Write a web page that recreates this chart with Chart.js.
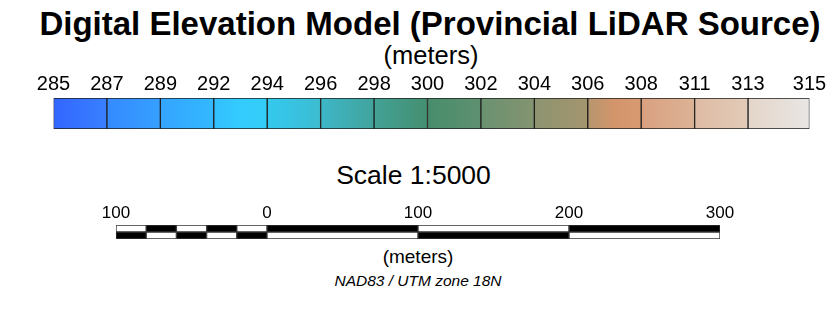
<!DOCTYPE html>
<html>
<head>
<meta charset="utf-8">
<script src="https://cdn.jsdelivr.net/npm/chart.js@4.4.1/dist/chart.umd.min.js"></script>
<style>
  html, body { margin: 0; padding: 0; background: #fff; overflow: hidden; }
  body { width: 835px; height: 310px; position: relative; font-family: "Liberation Sans", Arial, sans-serif; color: #000; }
  .txt { position: absolute; white-space: nowrap; transform: translateX(-50%); line-height: 1; }
  #title { left: 430px; top: 7px; font-size: 33px; font-weight: bold; }
  #units { left: 431px; top: 43px; font-size: 25.5px; }
  #scaleTitle { left: 413.5px; top: 161.5px; font-size: 26.5px; }
  #scaleUnits { left: 418px; top: 247px; font-size: 19px; }
  #crs { left: 418px; top: 273px; font-size: 15.5px; font-style: italic; }
  .box { position: absolute; }
  #rampBox { left: 26px; top: 72px; width: 809px; height: 58px; }
  #scaleBox { left: 86px; top: 203px; width: 664px; height: 37px; }
</style>
</head>
<body>
<div class="txt" id="title">Digital Elevation Model (Provincial LiDAR Source)</div>
<div class="txt" id="units">(meters)</div>
<div class="box" id="rampBox"><canvas id="ramp"></canvas></div>
<div class="txt" id="scaleTitle">Scale 1:5000</div>
<div class="box" id="scaleBox"><canvas id="scalebar"></canvas></div>
<div class="txt" id="scaleUnits">(meters)</div>
<div class="txt" id="crs">NAD83 / UTM zone 18N</div>

<script>
// elevation classes: break positions (class units) and their labels
const rampBreaks = [0, 1, 2, 3, 4, 5, 6, 7, 8, 9, 10, 11, 12, 13, 14.15];
const rampLabels = ['285', '287', '289', '292', '294', '296', '298', '300', '302', '304', '306', '308', '311', '313', '315'];

// scale bar: distance breaks (m), tick values and their labels
const scaleBreaks = [-100, -80, -60, -40, -20, 0, 100, 200, 300];
const scaleTopBlack = [0, 1, 0, 1, 0, 1, 0, 1];
const scaleRows = ['top', 'bottom'];
const scaleTicks = [-100, 0, 100, 200, 300];
const scaleTickLabels = ['100', '0', '100', '200', '300'];

// colour stops inside each class cell
const rampColors = [
    ['#3366ff', '#3880ff'],
    ['#358aff', '#35a0ff'],
    ['#34a4ff', '#33b9ff'],
    ['#33bfff', '#33ccfe', '#33cdf6'],
    ['#34c9f0', '#3cbcd0'],
    ['#3db7c8', '#41a39c'],
    ['#42a296', '#458e70'],
    ['#468d6c', '#5f9070'],
    ['#6a9270', '#849370'],
    ['#8d9470', '#a3956e'],
    ['#b5966f', '#d4956b', '#d69a72'],
    ['#d9a07f', '#dcb396'],
    ['#debba3', '#e2cbb8'],
    ['#e4d5c9', '#e8e6e4']
];

const fontFamily = '"Liberation Sans", Arial, sans-serif';

function rampFill(ctx) {
    const i = ctx.dataIndex;
    const chart = ctx.chart;
    if (ctx.type !== 'data' || !chart.chartArea) return rampColors[i || 0][0];
    const xs = chart.scales.x;
    const x0 = xs.getPixelForValue(rampBreaks[i]);
    const x1 = xs.getPixelForValue(rampBreaks[i + 1]);
    const g = chart.ctx.createLinearGradient(x0, 0, x1, 0);
    const stops = rampColors[i];
    stops.forEach((c, k) => g.addColorStop(k / (stops.length - 1), c));
    return g;
}

Chart.defaults.font.family = fontFamily;
Chart.defaults.color = '#000';

// colour ramp
new Chart(document.getElementById('ramp'), {
    type: 'bar',
    data: {
        labels: ['DEM'],
        datasets: [{
            data: rampBreaks.slice(0, -1).map((b, i) => ({ x: [b, rampBreaks[i + 1]], y: 'DEM' })),
            backgroundColor: rampFill,
            borderColor: '#1e1e1e',
            borderWidth: 1,
            borderSkipped: false,
            barPercentage: 1,
            categoryPercentage: 1
        }]
    },
    options: {
        indexAxis: 'y',
        responsive: true,
        maintainAspectRatio: false,
        animation: false,
        layout: { padding: { left: 27.5, right: 25.5, top: 0, bottom: 1 } },
        plugins: { legend: { display: false }, tooltip: { enabled: false } },
        scales: {
            x: {
                type: 'linear',
                position: 'top',
                min: rampBreaks[0],
                max: rampBreaks[rampBreaks.length - 1],
                grid: { display: false, drawTicks: false },
                border: { display: false },
                afterBuildTicks: function(scale) {
                    scale.ticks = rampBreaks.map(v => ({ value: v }));
                },
                afterFit: function(scale) {
                    scale.height = 26;
                },
                ticks: {
                    autoSkip: false,
                    maxRotation: 0,
                    padding: 2,
                    font: { size: 20 },
                    callback: function(value, index) {
                        return rampLabels[index];
                    }
                }
            },
            y: { display: false }
        }
    }
});

// scale bar
new Chart(document.getElementById('scalebar'), {
    type: 'bar',
    data: {
        labels: scaleRows,
        datasets: [{
            data: scaleRows.flatMap(row => scaleBreaks.slice(0, -1).map((b, i) => ({
                x: [b, scaleBreaks[i + 1]],
                y: row,
                black: row === 'top' ? scaleTopBlack[i] : 1 - scaleTopBlack[i]
            }))),
            backgroundColor: ctx => (ctx.raw && ctx.raw.black ? '#000' : '#fff'),
            borderColor: '#333',
            borderWidth: 1,
            borderSkipped: false,
            barPercentage: 1,
            categoryPercentage: 1
        }]
    },
    options: {
        indexAxis: 'y',
        responsive: true,
        maintainAspectRatio: false,
        animation: false,
        layout: { padding: { left: 30, right: 30, top: 0, bottom: 1 } },
        plugins: { legend: { display: false }, tooltip: { enabled: false } },
        scales: {
            x: {
                type: 'linear',
                position: 'top',
                min: scaleBreaks[0],
                max: scaleBreaks[scaleBreaks.length - 1],
                grid: { display: false, drawTicks: false },
                border: { display: false },
                afterBuildTicks: function(scale) {
                    scale.ticks = scaleTicks.map(v => ({ value: v }));
                },
                afterFit: function(scale) {
                    scale.height = 22;
                },
                ticks: {
                    autoSkip: false,
                    maxRotation: 0,
                    padding: 1.5,
                    font: { size: 17 },
                    callback: function(value, index) {
                        return scaleTickLabels[index];
                    }
                }
            },
            y: { display: false }
        }
    }
});
</script>
</body>
</html>
